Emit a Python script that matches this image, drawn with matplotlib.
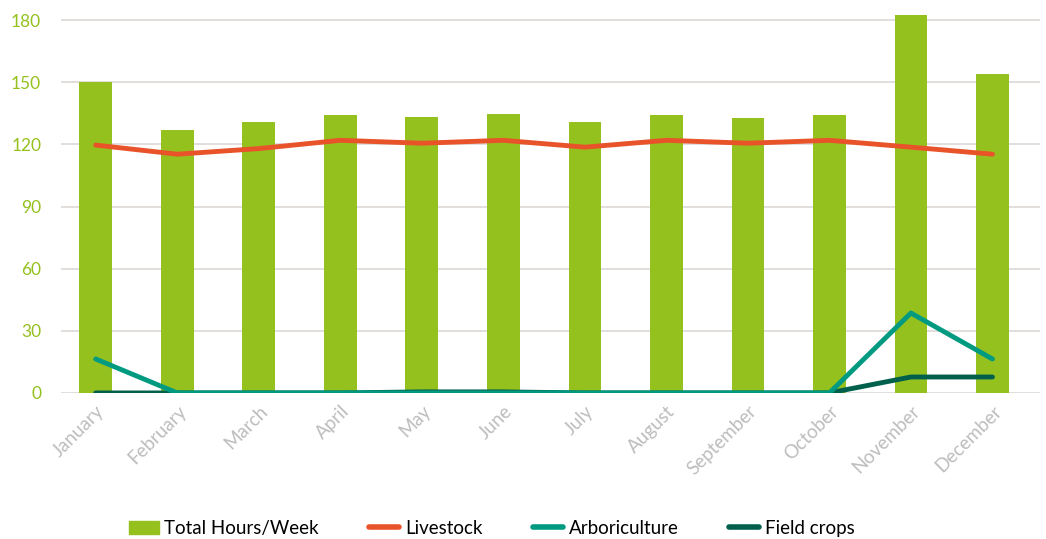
import numpy as np
import matplotlib.pyplot as plt
from matplotlib.lines import Line2D
from matplotlib.patches import Patch

months = ['January', 'February', 'March', 'April', 'May', 'June', 'July',
          'August', 'September', 'October', 'November', 'December']
total_hours = [150, 127, 131, 134.2, 133.2, 134.6, 130.8, 134.2, 132.7, 134.2, 182.4, 154]
livestock = [119.7, 115.3, 118, 122, 120.6, 122, 118.7, 122, 120.6, 122, 118.7, 115.3]
arboriculture = [16.4, 0, 0, 0, 0, 0, 0, 0, 0, 0, 38.6, 16.4]
field_crops = [0, 0, 0, 0, 0.5, 0.5, 0, 0, 0, 0, 7.7, 7.7]

plt.rcParams['font.family'] = ['Lato', 'DejaVu Sans']

fig = plt.figure(figsize=(10.46, 5.39), dpi=100)
ax = fig.add_axes([0.058, 0.271, 0.936, 0.703])

x = np.arange(len(months))
ax.bar(x, total_hours, width=0.4, color='#95c11f', zorder=2)
ax.plot(x, livestock, color='#e9532a', lw=3.5, solid_capstyle='round', zorder=3)
ax.plot(x, field_crops, color='#00604c', lw=3.5, solid_capstyle='round', zorder=3)
ax.plot(x, arboriculture, color='#009a80', lw=3.5, solid_capstyle='round', zorder=4)

ax.set_xlim(-0.43, 11.58)
ax.set_ylim(0, 183)
ax.set_yticks(range(0, 181, 30))
ax.yaxis.grid(True, color='#ddd8d6', lw=1.2, zorder=0)
ax.set_axisbelow(True)
for s in ax.spines.values():
    s.set_visible(False)
ax.tick_params(axis='y', length=0, pad=14, labelsize=12.5, labelcolor='#95c11f')
ax.tick_params(axis='x', length=0, pad=7)
ax.set_xticks(x)
ax.set_xticklabels(months, rotation=45, ha='right', rotation_mode='anchor',
                   fontsize=13.5, color='#bdbdbd')

handles = [Patch(color='#95c11f'),
           Line2D([], [], color='#e9532a', lw=4, solid_capstyle='round'),
           Line2D([], [], color='#009a80', lw=4, solid_capstyle='round'),
           Line2D([], [], color='#00604c', lw=4, solid_capstyle='round')]
labels = ['Total Hours/Week', 'Livestock', 'Arboriculture', 'Field crops']
fig.legend(handles, labels, loc='center', bbox_to_anchor=(0.47, 0.02), ncol=4,
           frameon=False, fontsize=13.5, handlelength=1.6, handletextpad=0.3,
           columnspacing=2.7)

fig.savefig('out.png', dpi=100)
